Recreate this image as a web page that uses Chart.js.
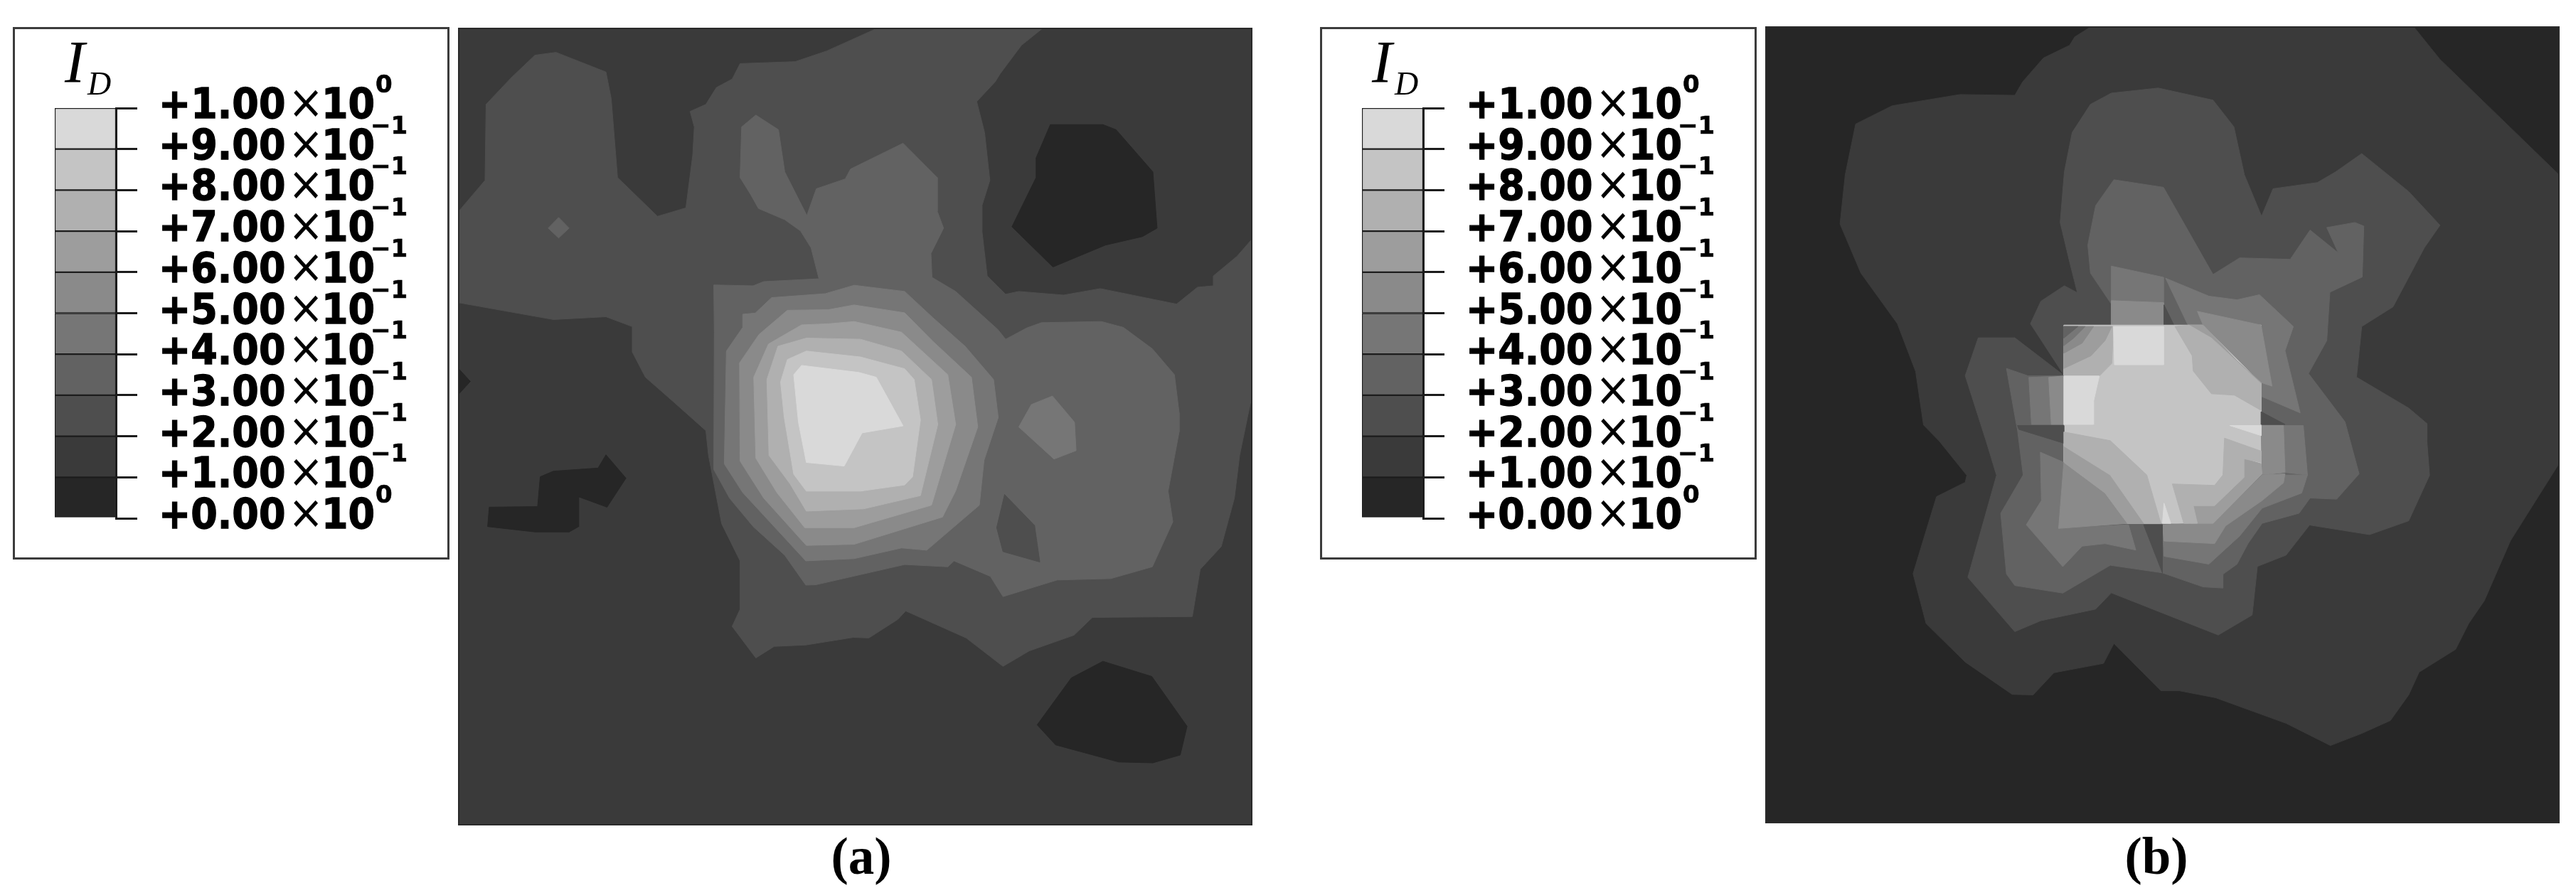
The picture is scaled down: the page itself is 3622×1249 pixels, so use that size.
<!DOCTYPE html>
<html>
<head>
<meta charset="utf-8">
<title>I_D contours</title>
<script src="https://cdn.jsdelivr.net/npm/chart.js@4"></script>
<style>
  html, body { margin: 0; padding: 0; background: #fff; }
  body { position: relative; width: 3622px; height: 1249px; overflow: hidden; }
  .box { position: absolute; box-sizing: border-box; }
  .legend { border: 3px solid #3c3c3c; background: #fff; }
  .caption { position: absolute; width: 200px; text-align: center; font: bold 73px "Liberation Serif", serif; color: #000; line-height: 80px; }
</style>
</head>
<body>
<div class="box legend" style="left:18px;top:38px;width:614px;height:749px"><canvas id="legendA"></canvas></div>
<div class="box" style="left:643px;top:38px;width:1119px;height:1124px"><canvas id="panelA"></canvas></div>
<div class="caption" style="left:1111px;top:1165px">(a)</div>
<div class="box legend" style="left:1856px;top:38px;width:614px;height:749px"><canvas id="legendB"></canvas></div>
<div class="box" style="left:2481px;top:36px;width:1119px;height:1123px"><canvas id="panelB"></canvas></div>
<div class="caption" style="left:2932px;top:1165px">(b)</div>

<script>
// contour bands, lowest first
var levelColors = ['#262626', '#3a3a3a', '#4e4e4e', '#626262', '#767676', '#8a8a8a', '#9d9d9d', '#b0b0b0', '#c4c4c4', '#d9d9d9'];
var legendTicks = [0, 0.1, 0.2, 0.3, 0.4, 0.5, 0.6, 0.7, 0.8, 0.9, 1.0];
var tickMantissa = ['+0.00', '+1.00', '+2.00', '+3.00', '+4.00', '+5.00', '+6.00', '+7.00', '+8.00', '+9.00', '+1.00'];
var tickExponent = ['0', '\u22121', '\u22121', '\u22121', '\u22121', '\u22121', '\u22121', '\u22121', '\u22121', '\u22121', '0'];

// panel (a) contours, [x, y] along each band edge
var a_band2 = [[20,1025],[20,700],[70,590],[72,320],[120,225],[165,145],[205,135],[300,205],[310,300],[322,580],[398,718],[452,688],[465,500],[468,400],[460,345],[490,320],[510,260],[540,230],[555,175],[660,168],[720,130],[815,50],[1130,50],[1090,110],[1050,210],[1040,240],[1005,310],[1020,420],[1030,590],[1015,680],[1015,770],[1025,930],[1060,995],[1085,985],[1170,998],[1240,975],[1385,1030],[1425,970],[1455,965],[1455,930],[1500,860],[1528,800],[1528,1360],[1505,1568],[1495,1720],[1470,1892],[1430,1973],[1415,2141],[1225,2144],[1190,2207],[1105,2263],[1055,2318],[985,2217],[870,2121],[855,2151],[800,2217],[770,2215],[680,2242],[620,2247],[585,2288],[540,2176],[555,2115],[555,1943],[520,1811],[495,1568],[490,1480],[430,1380],[375,1290],[350,1200],[350,1110],[300,1075],[200,1085]];
var a_diamond = [[190,760],[210,722],[230,760],[210,795]];
var a_band3 = [[585,358],[628,410],[640,560],[682,715],[700,620],[755,585],[765,550],[865,458],[930,580],[930,700],[942,760],[918,850],[920,935],[965,985],[1045,1120],[1060,1155],[1100,1115],[1128,1096],[1242,1092],[1284,1113],[1339,1189],[1381,1281],[1390,1416],[1390,1484],[1369,1695],[1378,1804],[1339,1964],[1260,2006],[1158,2011],[1055,2070],[1031,1998],[962,1943],[950,1964],[868,1956],[699,2028],[680,2029],[640,1923],[580,1821],[535,1720],[505,1618],[506,1130],[505,962],[580,965],[600,950],[705,940],[690,830],[670,770],[640,730],[590,690],[575,640],[555,580],[558,400]];
var a_band3hole = [[1058,1707],[1115,1817],[1125,1947],[1055,1910],[1043,1825]];
var a_band4 = [[529,1197],[560,1113],[560,1066],[584,1062],[615,1007],[717,993],[772,963],[868,985],[922,1079],[983,1180],[1037,1298],[1046,1433],[1019,1585],[1010,1745],[910,1905],[862,1897],[772,1935],[680,1943],[600,1781],[560,1700],[525,1598]];
var a_band4side = [[1085,1467],[1109,1387],[1149,1357],[1191,1450],[1194,1551],[1152,1581]];
var a_band5 = [[554,1239],[591,1138],[645,1052],[723,1050],[772,1033],[868,1061],[922,1163],[995,1290],[1007,1467],[965,1694],[940,1787],[772,1884],[681,1888],[600,1720],[555,1588]];
var a_band6 = [[581,1290],[609,1172],[672,1104],[723,1100],[772,1092],[862,1130],[950,1281],[965,1458],[919,1745],[772,1825],[678,1825],[625,1700],[585,1578]];
var a_band7 = [[606,1298],[627,1180],[681,1151],[784,1155],[862,1197],[919,1298],[931,1458],[898,1711],[790,1758],[681,1766],[650,1669],[610,1568]];
var a_band8 = [[632,1307],[645,1227],[681,1197],[784,1218],[868,1260],[886,1298],[898,1442],[883,1644],[868,1673],[784,1695],[681,1695],[657,1635],[639,1433]];
var a_band9 = [[657,1281],[672,1248],[781,1273],[814,1290],[865,1463],[787,1488],[753,1606],[681,1593],[666,1450]];
var a_low1 = [[1145,392],[1245,392],[1270,410],[1340,560],[1348,760],[1320,790],[1250,820],[1150,898],[1072,755],[1118,580],[1118,510]];
var a_low2 = [[300,1566],[338,1649],[302,1752],[248,1715],[248,1821],[230,1840],[165,1840],[75,1821],[78,1752],[170,1750],[175,1644],[200,1624],[285,1613]];
var a_low3 = [[1245,2300],[1338,2354],[1405,2531],[1392,2633],[1340,2661],[1275,2658],[1155,2597],[1120,2526],[1185,2359]];
var a_low4 = [[20,1260],[42,1305],[20,1350]];

// panel (b) contours
var b_band1 = [[640,45],[1260,45],[1310,160],[1538,570],[1538,1598],[1445,1872],[1395,2085],[1365,2166],[1340,2258],[1270,2339],[1250,2420],[1215,2511],[1160,2557],[1100,2600],[1015,2521],[880,2430],[810,2405],[775,2405],[685,2237],[665,2308],[570,2341],[530,2420],[490,2418],[400,2303],[325,2166],[300,1989],[345,1715],[400,1664],[403,1639],[350,1517],[320,1460],[305,1270],[270,1100],[200,920],[160,745],[170,570],[190,390],[260,325],[390,285],[495,288],[510,240],[550,155],[600,110],[610,80]];
var b_band2 = [[680,280],[770,262],[875,305],[915,400],[935,570],[968,718],[990,620],[1075,598],[1110,560],[1160,495],[1250,630],[1310,750],[1280,830],[1220,1040],[1160,1110],[1150,1290],[1250,1400],[1285,1455],[1285,1517],[1290,1639],[1250,1801],[1175,1850],[1060,1816],[1015,1923],[960,1963],[950,2136],[885,2207],[680,2057],[650,2115],[545,2156],[495,2195],[405,2002],[460,1639],[440,1517],[400,1285],[425,1150],[495,1150],[590,1285],[525,1100],[545,1020],[590,965],[615,990],[600,880],[582,740],[590,560],[605,420],[640,320]];
var b_band3 = [[685,588],[780,615],[875,925],[926,866],[1023,871],[1061,767],[1115,848],[1093,758],[1147,740],[1164,753],[1161,934],[1099,988],[1093,1160],[1058,1277],[1128,1449],[1155,1634],[1112,1724],[1061,1720],[1040,1774],[969,1810],[942,1882],[921,1955],[894,1991],[894,2040],[856,2036],[778,1986],[678,1959],[587,2058],[495,2031],[479,1990],[468,1774],[511,1638],[500,1476],[498,1458],[479,1259],[520,1285],[590,1285],[590,1105],[680,1105],[680,1030],[640,920],[635,820],[650,680]];
var b_block4 = [[680,895],[780,935],[780,1105],[680,1105]];
var b_block5 = [[680,1018],[780,1025],[780,1108],[680,1108]];
var b_wedgeTop = [[781,1033],[800,1105],[781,1105]];
var b_right4 = [[784,938],[867,1002],[921,1015],[964,997],[1029,1110],[1013,1196],[1042,1417],[967,1358],[967,1105],[827,1105]];
var b_square8 = [[589,1105],[967,1105],[967,1638],[875,1810],[589,1810]];
var b_right5 = [[845,1056],[967,1105],[988,1322],[967,1309],[856,1105]];
var b_corner7 = [[589,1286],[657,1286],[681,1241],[684,1110],[589,1110]];
var b_corner6 = [[589,1259],[641,1214],[668,1160],[681,1110],[589,1110]];
var b_corner5 = [[589,1205],[624,1169],[646,1110],[589,1110]];
var b_corner4 = [[589,1178],[608,1151],[630,1110],[589,1110]];
var b_corner3 = [[589,1151],[616,1110],[589,1110]];
var b_top9 = [[684,1110],[780,1110],[780,1246],[686,1246]];
var b_left4 = [[522,1291],[589,1286],[589,1458],[527,1458]];
var b_left5 = [[560,1291],[589,1286],[589,1458],[565,1458]];
var b_left9 = [[589,1286],[657,1286],[646,1376],[646,1458],[589,1458]];
var b_wedgeLeft = [[500,1462],[589,1462],[589,1525],[503,1476]];
var b_upper7 = [[802,1110],[829,1105],[872,1151],[967,1313],[967,1408],[916,1354],[872,1349],[837,1268],[835,1214]];
var b_upper6 = [[829,1105],[856,1105],[921,1232],[967,1309],[967,1358],[872,1151]];
var b_wedgeRight = [[967,1413],[1013,1458],[967,1458]];
var b_side4 = [[1010,1462],[1048,1462],[1056,1638],[1013,1629]];
var b_side5 = [[967,1462],[1010,1462],[1013,1629],[969,1638]];
var b_ring4 = [[778,1815],[875,1810],[969,1638],[1056,1638],[1045,1702],[969,1756],[926,1855],[867,1955],[781,1927]];
var b_ring5 = [[778,1815],[875,1810],[969,1638],[1013,1634],[1010,1666],[969,1729],[899,1819],[878,1882],[781,1873]];
var b_lobe4 = [[544,1557],[589,1593],[579,1828],[713,1815],[727,1905],[668,1882],[624,1891],[587,1964],[517,1815],[546,1729]];
var b_low5 = [[589,1593],[668,1702],[711,1810],[579,1828]];
var b_low6 = [[589,1535],[678,1638],[743,1810],[711,1810],[668,1702],[589,1593]];
var b_low7 = [[589,1485],[678,1516],[748,1638],[775,1810],[743,1810],[678,1638],[589,1535]];
var b_mid7 = [[797,1670],[878,1675],[894,1638],[897,1507],[967,1553],[967,1593],[934,1580],[934,1647],[878,1747],[837,1747],[845,1810],[819,1810]];
var b_mid6 = [[934,1580],[967,1598],[969,1634],[875,1810],[845,1810],[837,1747],[878,1747],[934,1647]];
var b_sliver9a = [[781,1738],[794,1810],[778,1810]];
var b_sliver9b = [[907,1462],[967,1462],[967,1498]];
var b_wedgeBottom = [[742,1815],[778,1815],[778,1986]];

// paint order: [band index, outline]
var panelALayers = [
  [2, a_band2], [3, a_diamond], [0, a_low4], [3, a_band3], [2, a_band3hole],
  [4, a_band4], [4, a_band4side], [5, a_band5], [6, a_band6], [7, a_band7], [8, a_band8], [9, a_band9],
  [0, a_low1], [0, a_low2], [0, a_low3]
];
var panelBLayers = [
  [1, b_band1], [2, b_band2], [3, b_band3],
  [4, b_block4], [5, b_block5], [2, b_wedgeTop], [4, b_right4],
  [8, b_square8], [5, b_right5], [6, b_upper6], [7, b_upper7],
  [7, b_corner7], [6, b_corner6], [5, b_corner5], [4, b_corner4], [3, b_corner3], [9, b_top9],
  [4, b_left4], [5, b_left5], [9, b_left9], [2, b_wedgeLeft], [2, b_wedgeRight],
  [4, b_side4], [5, b_side5], [4, b_ring4], [5, b_ring5], [4, b_lobe4],
  [5, b_low5], [6, b_low6], [7, b_low7], [6, b_mid6], [7, b_mid7],
  [9, b_sliver9a], [9, b_sliver9b], [2, b_wedgeBottom]
];

var framePlugin = {
  id: 'frame',
  afterDraw: function(chart) {
    var a = chart.chartArea, ctx = chart.ctx;
    ctx.save();
    ctx.strokeStyle = '#2a2a2a';
    ctx.lineWidth = 2;
    ctx.strokeRect(a.left, a.top, a.right - a.left, a.bottom - a.top);
    ctx.restore();
  }
};

function drawPanel(id, layers, background, range) {
  // chart draws datasets last-to-first, so reverse to keep the paint order
  var datasets = layers.map(function(layer) {
    var color = levelColors[layer[0]];
    var pts = layer[1].concat([layer[1][0]]).map(function(p) { return { x: p[0], y: p[1] }; });
    return { data: pts, showLine: true, fill: 'shape', backgroundColor: color, borderColor: color, borderWidth: 1, pointRadius: 0, tension: 0 };
  }).reverse();

  var bgPlugin = {
    id: 'bg',
    beforeDatasetsDraw: function(chart) {
      var a = chart.chartArea;
      chart.ctx.fillStyle = background;
      chart.ctx.fillRect(a.left, a.top, a.right - a.left, a.bottom - a.top);
    }
  };

  new Chart(document.getElementById(id), {
    type: 'scatter',
    data: { datasets: datasets },
    plugins: [bgPlugin, framePlugin],
    options: {
      responsive: true, maintainAspectRatio: false, animation: false,
      layout: { padding: 2 },
      plugins: { legend: { display: false }, tooltip: { enabled: false } },
      scales: {
        x: { display: false, min: range[0], max: range[1] },
        y: { display: false, min: range[2], max: range[3], reverse: true }
      }
    }
  });
}

function heavyText(ctx, text, x, y, weight) {
  ctx.lineWidth = weight;
  ctx.strokeText(text, x, y);
  ctx.fillText(text, x, y);
}

var legendTextPlugin = {
  id: 'legendText',
  afterDraw: function(chart) {
    var ctx = chart.ctx, yScale = chart.scales.y, x0 = chart.chartArea.right;
    ctx.save();
    ctx.fillStyle = '#000';
    ctx.strokeStyle = '#000';
    ctx.textBaseline = 'alphabetic';
    ctx.textAlign = 'left';

    ctx.font = 'italic 85px "Liberation Serif"';
    ctx.fillText('I', x0 - 72, yScale.top - 36);
    ctx.font = 'italic 46px "Liberation Serif"';
    ctx.fillText('D', x0 - 40, yScale.top - 19);

    legendTicks.forEach(function(v, i) {
      var y = yScale.getPixelForValue(v);
      ctx.save();
      ctx.translate(x0 + 60, y + 14);
      ctx.scale(1, 1.1);
      ctx.font = 'bold 54px "DejaVu Sans"';
      heavyText(ctx, tickMantissa[i], 0, 0, 1.2);
      ctx.font = '60px "DejaVu Sans"';
      ctx.fillText('\u00d7', 182, 0);
      ctx.font = 'bold 54px "DejaVu Sans"';
      heavyText(ctx, '10', 229, 0, 1.2);
      ctx.restore();
      ctx.font = 'bold 34px "DejaVu Sans"';
      heavyText(ctx, tickExponent[i], x0 + (tickExponent[i] === '0' ? 365 : 358), y - 22, 0.6);
    });
    ctx.restore();
  }
};

function drawLegend(id) {
  var datasets = levelColors.map(function(color, i) {
    return { data: [[legendTicks[i], legendTicks[i + 1]]], backgroundColor: color, borderColor: '#1c1c1c', borderWidth: 1.5, borderSkipped: false, barPercentage: 1, categoryPercentage: 1, grouped: false };
  });
  new Chart(document.getElementById(id), {
    type: 'bar',
    data: { labels: ['ID'], datasets: datasets },
    plugins: [legendTextPlugin],
    options: {
      responsive: true, maintainAspectRatio: false, animation: false,
      layout: { padding: { left: 56, top: 111, bottom: 55, right: 0 } },
      plugins: { legend: { display: false }, tooltip: { enabled: false } },
      scales: {
        x: { display: false },
        y: {
          position: 'right', min: 0, max: 1,
          afterBuildTicks: function(axis) { axis.ticks = legendTicks.map(function(v) { return { value: v }; }); },
          afterFit: function(axis) { axis.width = 466; },
          ticks: { display: false },
          border: { display: true, color: '#1c1c1c', width: 3 },
          grid: { drawOnChartArea: false, tickLength: 30, tickColor: '#1c1c1c', lineWidth: 3 }
        }
      }
    }
  });
}

drawLegend('legendA');
drawLegend('legendB');
drawPanel('panelA', panelALayers, levelColors[1], [20, 1528, 50, 2881]);
drawPanel('panelB', panelBLayers, levelColors[0], [18, 1538, 45, 2874]);
</script>
</body>
</html>
